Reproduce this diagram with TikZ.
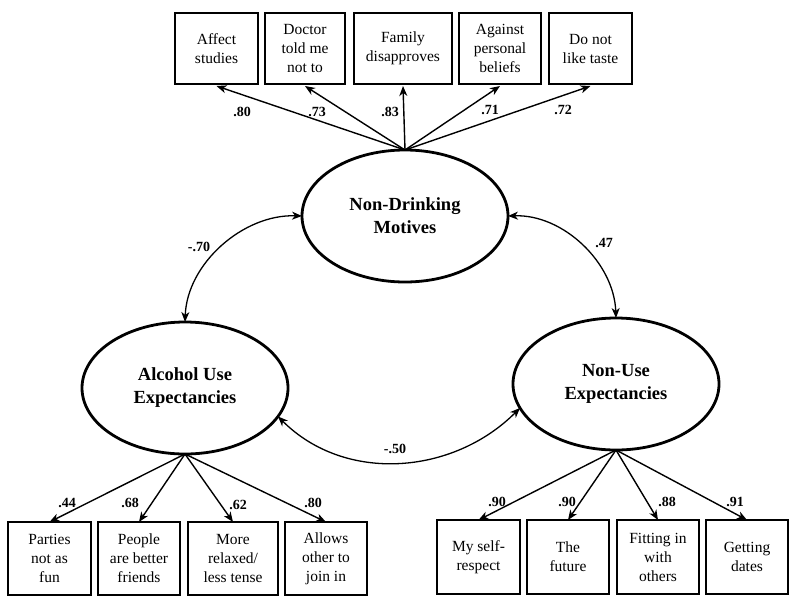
\documentclass[tikz,border=0pt]{standalone}
\usepackage{fontspec}
\setmainfont{Liberation Serif}
\usetikzlibrary{shapes.geometric,arrows.meta}
\begin{document}
\begin{tikzpicture}[x=1pt,y=-1pt,
  latent/.style={ellipse,draw,line width=2.8pt,minimum width=206pt,minimum height=132pt,inner sep=0pt,outer sep=0pt,align=center,font=\fontsize{18.5}{23}\selectfont\bfseries},
  obs/.style={rectangle,draw,line width=2.4pt,inner sep=0pt,outer sep=0pt,align=center,font=\fontsize{15.5}{19}\selectfont},
  path/.style={line width=1.4pt,-{Stealth[length=10pt,width=8pt,inset=3pt]}},
  cor/.style={line width=1.3pt,{Stealth[length=10pt,width=8pt,inset=3pt]}-{Stealth[length=10pt,width=8pt,inset=3pt]}},
  lab/.style={font=\fontsize{14}{16}\selectfont\bfseries,inner sep=0pt}]
\useasboundingbox (0,0) rectangle (800,606);
\fill[white] (0,0) rectangle (800,606);
% latent variables
\node[latent] (ndm) at (405,216) {Non-Drinking\\Motives};
\node[latent] (alc) at (185,388) {Alcohol Use\\Expectancies};
\node[latent] (nue) at (616,384) {Non-Use\\Expectancies};
% top boxes
\node[obs,minimum width=83pt,minimum height=71pt] (t1) at (216.5,48.5) {Affect\\studies};
\node[obs,minimum width=80pt,minimum height=71pt] (t2) at (305,48.5) {Doctor\\told me\\not to};
\node[obs,minimum width=98pt,minimum height=71pt] (t3) at (403,48.5) {Family\\disapproves};
\node[obs,minimum width=82pt,minimum height=71pt] (t4) at (500,48.5) {Against\\personal\\beliefs};
\node[obs,minimum width=83pt,minimum height=71pt] (t5) at (590.5,48.5) {Do not\\like taste};
% bottom-left boxes
\node[obs,minimum width=83pt,minimum height=73pt] (a1) at (49.5,558.5) {Parties\\not as\\fun};
\node[obs,minimum width=82pt,minimum height=73pt] (a2) at (139,558.5) {People\\are better\\friends};
\node[obs,minimum width=90pt,minimum height=73pt] (a3) at (233,558.5) {More\\relaxed/\\less tense};
\node[obs,minimum width=82pt,minimum height=73pt] (a4) at (326,558.5) {Allows\\other to\\join in};
% bottom-right boxes
\node[obs,minimum width=83pt,minimum height=74pt] (n1) at (478.5,557) {My self-\\respect};
\node[obs,minimum width=82pt,minimum height=74pt] (n2) at (568,557) {The\\future};
\node[obs,minimum width=82pt,minimum height=74pt] (n3) at (658,557) {Fitting in\\with\\others};
\node[obs,minimum width=82pt,minimum height=74pt] (n4) at (747,557) {Getting\\dates};
% loadings
\foreach \b in {t1,t2,t3,t4,t5} \draw[path] (ndm.north) -- ([yshift=-2pt]\b.south);
\foreach \b in {a1,a2,a3,a4} \draw[path] (alc.south) -- (\b.north);
\foreach \b in {n1,n2,n3,n4} \draw[path] (nue.south) -- (\b.north);
% correlations
\draw[cor] (ndm.west) to[out=178,in=88,looseness=0.95] (alc.north);
\draw[cor] (ndm.east) to[out=2,in=92,looseness=0.95] (nue.north);
\draw[cor] (alc.-17) to[out=-45,in=-135] (nue.194);
% labels
\node[lab] at (199,247) {-.70};
\node[lab] at (604,243) {.47};
\node[lab] at (395,449) {-.50};
\node[lab] at (242,112) {.80};
\node[lab] at (317,112) {.73};
\node[lab] at (390,112) {.83};
\node[lab] at (490,110) {.71};
\node[lab] at (563,110) {.72};
\node[lab] at (67,503) {.44};
\node[lab] at (130,503) {.68};
\node[lab] at (238,505) {.62};
\node[lab] at (313,503) {.80};
\node[lab] at (497,502) {.90};
\node[lab] at (567,502) {.90};
\node[lab] at (667,502) {.88};
\node[lab] at (735,502) {.91};
\end{tikzpicture}
\end{document}
